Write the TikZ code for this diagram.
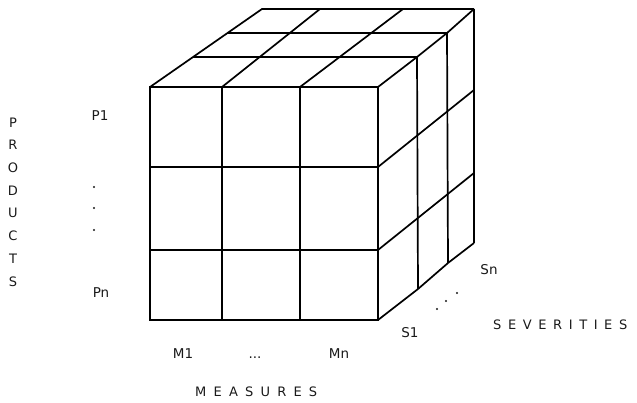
\documentclass[tikz,border=0pt]{standalone}
\usepackage{fontspec}
\setmainfont{DejaVu Sans}
\begin{document}
\begin{tikzpicture}[x=1pt,y=-1pt,
  cube/.style={line width=1.7pt, black},
  lbl/.style={font=\fontsize{13.5}{16}\selectfont, text=black!90, inner sep=0pt},
  ttl/.style={font=\fontsize{13}{15}\selectfont, text=black!90, inner sep=0pt},
  dotmark/.style={fill=black!90}]
\useasboundingbox (0,0) rectangle (637,403);
% front face
\draw[cube] (150,87) rectangle (378,320);
\draw[cube] (222,87) -- (222,320) (300,87) -- (300,320)
            (150,167) -- (378,167) (150,250) -- (378,250);
% top face
\draw[cube] (150,87) -- (262,9) -- (474,9);
\draw[cube] (378,87) -- (417,57) -- (447,33) -- (474,9);
\draw[cube] (222,87) -- (320,9) (300,87) -- (403,9);
\draw[cube] (193,57) -- (417,57) (228,33) -- (447,33);
% right face
\draw[cube] (474,9) -- (474,243);
\draw[cube] (378,320) -- (418,289) -- (448,263) -- (474,243);
\draw[cube] (417,57) -- (418,289) (447,33) -- (448,263);
\draw[cube] (378,167) -- (474,90) (378,250) -- (474,173);
% labels
\node[ttl, anchor=north, align=center, font=\fontsize{13}{22.7}\selectfont] (products) at (13,117.5) {P\\R\\O\\D\\U\\C\\T\\S};
\node[lbl, anchor=base] (p1) at (100,121) {P1};
\node[lbl, anchor=base] (pn) at (101,298) {Pn};
\fill[dotmark] (94,187) circle (1.1pt) (94,208) circle (1.1pt) (94,230) circle (1.1pt);
\node[lbl, anchor=base] (m1) at (183,358) {M1};
\node[lbl, anchor=base] (mdots) at (255,358) {...};
\node[lbl, anchor=base] (mn) at (339,358) {Mn};
\node[ttl, anchor=base west] (measures) at (195,396) {\spaceskip=7.2pt M E A S U R E S};
\node[lbl, anchor=base] (s1) at (410,337) {S1};
\node[lbl, anchor=base] (sn) at (489,275) {Sn};
\fill[dotmark] (437,309) circle (1.1pt) (446,301) circle (1.1pt) (457,293) circle (1.1pt);
\node[ttl, anchor=base west] (severities) at (493,330) {\spaceskip=6.6pt S E V E R I T I E S};
\end{tikzpicture}
\end{document}
